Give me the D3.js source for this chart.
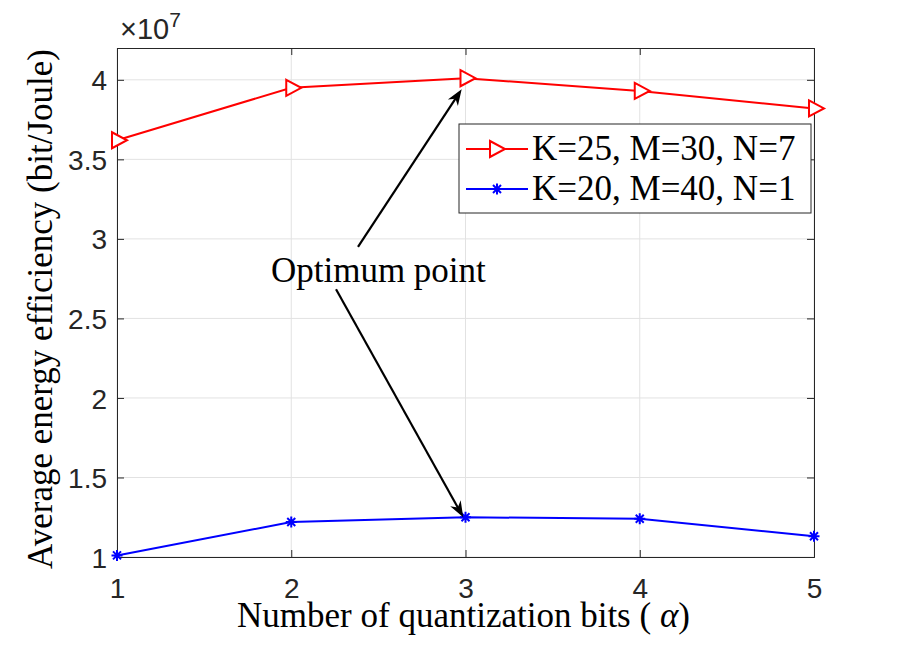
<!DOCTYPE html>
<html lang="en">
<head>
  <meta charset="UTF-8">
  <title>Average energy efficiency vs quantization bits</title>
  <script src="https://d3js.org/d3.v7.min.js"></script>
  <style>
    body {
      margin: 0;
      background: #fff;
    }
    #chart {
      display: block;
    }
  </style>
</head>
<body>
  <svg id="chart" width="900" height="648"></svg>

  <script>
    // data (values in units of 1e7 bit/Joule)
    const bits = [1, 2, 3, 4, 5];
    const eeK25 = [3.62, 3.95, 4.01, 3.93, 3.82];
    const eeK20 = [1.01, 1.22, 1.25, 1.24, 1.13];
    const xTicks = [1, 2, 3, 4, 5];
    const yTicks = [1, 1.5, 2, 2.5, 3, 3.5, 4];
    const seriesNames = ["K=25, M=30, N=7", "K=20, M=40, N=1"];
    const seriesColors = ["#ff0000", "#0000ff"];

    // annotation: text anchor and two arrows (tail -> tip), in data units
    const noteText = "Optimum point";
    const notePos = [2.50, 2.73];
    const arrows = [
      [[2.383, 2.95], [2.978, 3.94]],
      [[2.257, 2.683], [2.987, 1.25]]
    ];

    const margin = { top: 48, right: 86, bottom: 91, left: 117 };
    const width = 900 - margin.left - margin.right;
    const height = 648 - margin.top - margin.bottom;
    const axisColor = "#262626";
    const gridColor = "#e2e2e2";
    const tickLen = 7;
    const sansFont = "'Liberation Sans', Arial, sans-serif";
    const serifFont = "'Liberation Serif', 'Times New Roman', serif";

    const svg = d3.select("#chart")
      .append("g")
      .attr("transform", `translate(${margin.left},${margin.top})`);

    const x = d3.scaleLinear().domain([1, 5]).range([0, width]);
    const y = d3.scaleLinear().domain([1, 4.2]).range([height, 0]);

    // grid
    svg.append("g")
      .selectAll("line")
      .data(xTicks)
      .join("line")
      .attr("x1", d => x(d)).attr("x2", d => x(d))
      .attr("y1", 0).attr("y2", height)
      .attr("stroke", gridColor).attr("stroke-width", 1);

    svg.append("g")
      .selectAll("line")
      .data(yTicks)
      .join("line")
      .attr("x1", 0).attr("x2", width)
      .attr("y1", d => y(d)).attr("y2", d => y(d))
      .attr("stroke", gridColor).attr("stroke-width", 1);

    // axes (MATLAB style: ticks inward, box on)
    const xAxis = svg.append("g")
      .attr("transform", `translate(0,${height})`)
      .call(d3.axisBottom(x).tickValues(xTicks).tickSize(-tickLen).tickPadding(21).tickFormat(d3.format("d")));
    const yAxis = svg.append("g")
      .call(d3.axisLeft(y).tickValues(yTicks).tickSize(-tickLen).tickPadding(10).tickFormat(d => d));
    svg.append("g")
      .call(d3.axisTop(x).tickValues(xTicks).tickSize(-tickLen).tickFormat(""));
    svg.append("g")
      .attr("transform", `translate(${width},0)`)
      .call(d3.axisRight(y).tickValues(yTicks).tickSize(-tickLen).tickFormat(""));

    svg.selectAll(".domain, .tick line")
      .attr("stroke", axisColor)
      .attr("stroke-width", 1);
    svg.selectAll(".tick text")
      .style("font-size", "28px")
      .style("font-family", sansFont)
      .attr("fill", axisColor);
    xAxis.selectAll("text").attr("dy", "0.71em");
    yAxis.selectAll("text").attr("dy", "0.36em");

    // exponent label
    const expo = svg.append("text")
      .style("font-family", sansFont)
      .style("font-size", "29px")
      .attr("fill", axisColor)
      .attr("x", 3)
      .attr("y", -9);
    expo.append("tspan").text("\u00d710");
    expo.append("tspan").style("font-size", "21px").attr("dy", -12).text("7");

    // series
    const line = d3.line()
      .x((d, i) => x(bits[i]))
      .y(d => y(d));

    svg.append("path")
      .datum(eeK25)
      .attr("fill", "none")
      .attr("stroke", seriesColors[0])
      .attr("stroke-width", 2)
      .attr("d", line);

    svg.append("path")
      .datum(eeK20)
      .attr("fill", "none")
      .attr("stroke", seriesColors[1])
      .attr("stroke-width", 2)
      .attr("d", line);

    function triangle(cx, cy) {
      return `M${cx - 5},${cy - 8}L${cx + 10},${cy}L${cx - 5},${cy + 8}Z`;
    }
    function asterisk(cx, cy) {
      const r = 5.5, q = 4;
      return `M${cx - r},${cy}H${cx + r}M${cx},${cy - r}V${cy + r}` +
        `M${cx - q},${cy - q}L${cx + q},${cy + q}M${cx - q},${cy + q}L${cx + q},${cy - q}`;
    }

    svg.append("g")
      .selectAll("path")
      .data(eeK25)
      .join("path")
      .attr("d", (d, i) => triangle(x(bits[i]), y(d)))
      .attr("fill", "#fff")
      .attr("stroke", seriesColors[0])
      .attr("stroke-width", 2);

    svg.append("g")
      .selectAll("path")
      .data(eeK20)
      .join("path")
      .attr("d", (d, i) => asterisk(x(bits[i]), y(d)))
      .attr("fill", "none")
      .attr("stroke", seriesColors[1])
      .attr("stroke-width", 2);

    // arrows
    function arrowHead(x0, y0, x1, y1) {
      const L = 16, W = 12;
      const len = Math.hypot(x1 - x0, y1 - y0);
      const ux = (x1 - x0) / len, uy = (y1 - y0) / len;
      const nx = -uy, ny = ux;
      const bx = x1 - L * ux, by = y1 - L * uy;
      const mx = x1 - 0.7 * L * ux, my = y1 - 0.7 * L * uy;
      return `M${x1},${y1}L${bx + nx * W / 2},${by + ny * W / 2}L${mx},${my}L${bx - nx * W / 2},${by - ny * W / 2}Z`;
    }

    arrows.forEach(([tail, tip]) => {
      const x0 = x(tail[0]), y0 = y(tail[1]);
      const x1 = x(tip[0]), y1 = y(tip[1]);
      const len = Math.hypot(x1 - x0, y1 - y0);
      svg.append("line")
        .attr("x1", x0).attr("y1", y0)
        .attr("x2", x1 - 10 * (x1 - x0) / len).attr("y2", y1 - 10 * (y1 - y0) / len)
        .attr("stroke", "#000")
        .attr("stroke-width", 2.2);
      svg.append("path")
        .attr("d", arrowHead(x0, y0, x1, y1))
        .attr("fill", "#000");
    });

    svg.append("text")
      .style("font-family", serifFont)
      .style("font-size", "35px")
      .attr("x", x(notePos[0]))
      .attr("y", y(notePos[1]))
      .attr("text-anchor", "middle")
      .text(noteText);

    // legend
    const legend = svg.append("g")
      .attr("transform", `translate(${459 - margin.left},${124 - margin.top})`);

    legend.append("rect")
      .attr("width", 352)
      .attr("height", 89)
      .attr("fill", "#fff")
      .attr("stroke", axisColor)
      .attr("stroke-width", 1);

    const entry = legend.selectAll(".entry")
      .data(seriesNames)
      .join("g")
      .attr("class", "entry")
      .attr("transform", (d, i) => `translate(0,${25 + i * 40})`);

    entry.append("line")
      .attr("x1", 7).attr("x2", 69)
      .attr("stroke", (d, i) => seriesColors[i])
      .attr("stroke-width", 2);

    entry.append("path")
      .attr("d", (d, i) => i === 0 ? triangle(36, 0) : asterisk(38, 0))
      .attr("fill", (d, i) => i === 0 ? "#fff" : "none")
      .attr("stroke", (d, i) => seriesColors[i])
      .attr("stroke-width", 2);

    entry.append("text")
      .style("font-family", serifFont)
      .style("font-size", "35px")
      .attr("x", 73)
      .attr("y", 11)
      .text(d => d);

    // axis labels
    const xLabel = svg.append("text")
      .style("font-family", serifFont)
      .style("font-size", "35px")
      .attr("text-anchor", "middle")
      .attr("x", width / 2 - 2)
      .attr("y", height + 70);
    xLabel.append("tspan").text("Number of quantization bits ( ");
    xLabel.append("tspan").attr("font-style", "italic").text("\u03b1");
    xLabel.append("tspan").text(")");

    svg.append("text")
      .style("font-family", serifFont)
      .style("font-size", "35px")
      .attr("text-anchor", "middle")
      .attr("transform", "rotate(-90)")
      .attr("x", -(309 - margin.top))
      .attr("y", 52 - margin.left)
      .text("Average energy efficiency (bit/Joule)");
  </script>
</body>
</html>
